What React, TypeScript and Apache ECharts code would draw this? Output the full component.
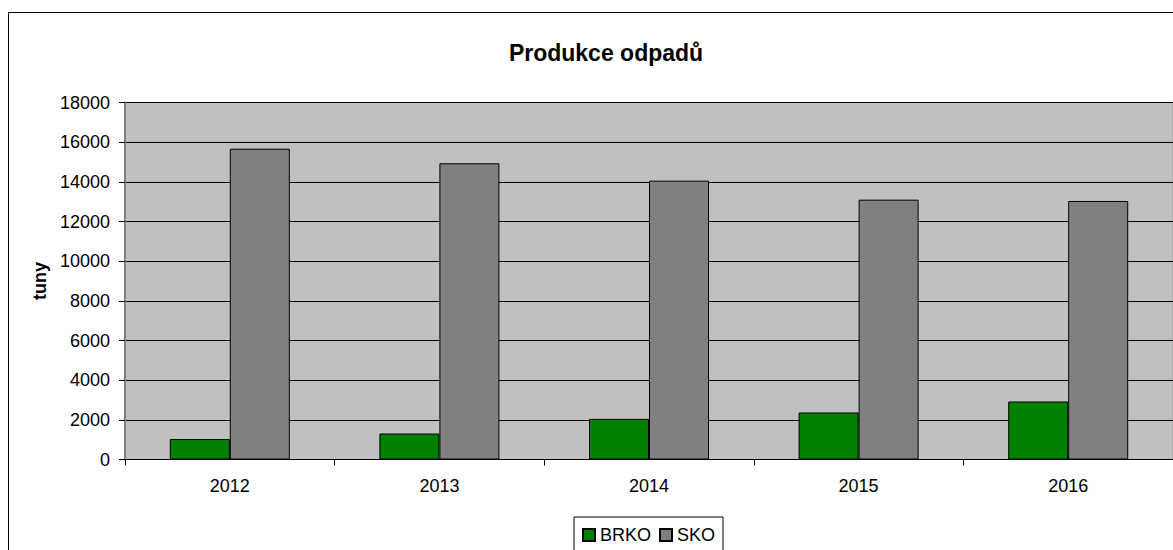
import React, { useEffect, useRef } from "react";
import * as echarts from "echarts";

const years = ["2012", "2013", "2014", "2015", "2016"];
const brko = [1035, 1310, 2050, 2370, 2925];
const sko = [15670, 14935, 14060, 13100, 13035];
const yTicks = { min: 0, max: 18000, interval: 2000 };

export default function App() {
  const ref = useRef<HTMLDivElement>(null);
  useEffect(() => {
    document.body.style.margin = "0";
    const chart = echarts.init(ref.current!, null, { renderer: "svg" });
    const font = "Arial, 'Liberation Sans', sans-serif";
    chart.setOption({
      animation: false,
      backgroundColor: "#fff",
      graphic: [
        {
          type: "rect",
          shape: { x: 8.5, y: 12.5, width: 1300, height: 700 },
          style: { fill: "none", stroke: "#000", lineWidth: 1 },
          silent: true,
          z: -10,
        },
        {
          type: "text",
          x: 606,
          y: 53,
          style: {
            text: "Produkce odpadů",
            fill: "#000",
            font: `bold 23px ${font}`,
            align: "center",
            verticalAlign: "middle",
          },
        },
      ],
      grid: {
        left: 125,
        top: 102.5,
        width: 1050,
        height: 357,
        show: true,
        backgroundColor: "#C0C0C0",
        borderColor: "#9a9a9a",
        borderWidth: 1,
      },
      legend: {
        left: 574,
        top: 517,
        padding: [9, 8, 9, 8],
        itemGap: 8,
        itemWidth: 12,
        itemHeight: 12,
        itemTextGap: 4,
        icon: "rect",
        borderColor: "#000",
        borderWidth: 1,
        textStyle: { fontFamily: font, fontSize: 18, color: "#000" },
        data: ["BRKO", "SKO"],
      },
      xAxis: {
        type: "category",
        data: years,
        boundaryGap: true,
        axisLine: { lineStyle: { color: "#000", width: 1 } },
        axisTick: { show: true, length: 6, interval: 0, lineStyle: { color: "#000" } },
        axisLabel: { fontFamily: font, fontSize: 18, color: "#000", margin: 17 },
      },
      yAxis: {
        type: "value",
        min: yTicks.min,
        max: yTicks.max,
        interval: yTicks.interval,
        name: "tuny",
        nameLocation: "middle",
        nameRotate: 90,
        nameGap: 74,
        nameTextStyle: { fontFamily: font, fontSize: 18, fontWeight: "bold", color: "#000" },
        axisLine: { show: true, lineStyle: { color: "#808080", width: 2 } },
        axisTick: { show: true, length: 6, lineStyle: { color: "#000" } },
        axisLabel: {
          fontFamily: font,
          fontSize: 18,
          color: "#000",
          margin: 15,
          formatter: (v: number) => String(v),
        },
        splitLine: { show: true, lineStyle: { color: "#000", width: 1 } },
      },
      series: [
        {
          name: "BRKO",
          type: "bar",
          data: brko,
          barWidth: 60,
          barGap: "0%",
          itemStyle: { color: "#008000", borderColor: "#000", borderWidth: 1 },
        },
        {
          name: "SKO",
          type: "bar",
          data: sko,
          barWidth: 60,
          barGap: "0%",
          itemStyle: { color: "#808080", borderColor: "#000", borderWidth: 1 },
        },
      ],
    });
    return () => chart.dispose();
  }, []);
  return <div ref={ref} style={{ width: 1173, height: 550 }} />;
}
